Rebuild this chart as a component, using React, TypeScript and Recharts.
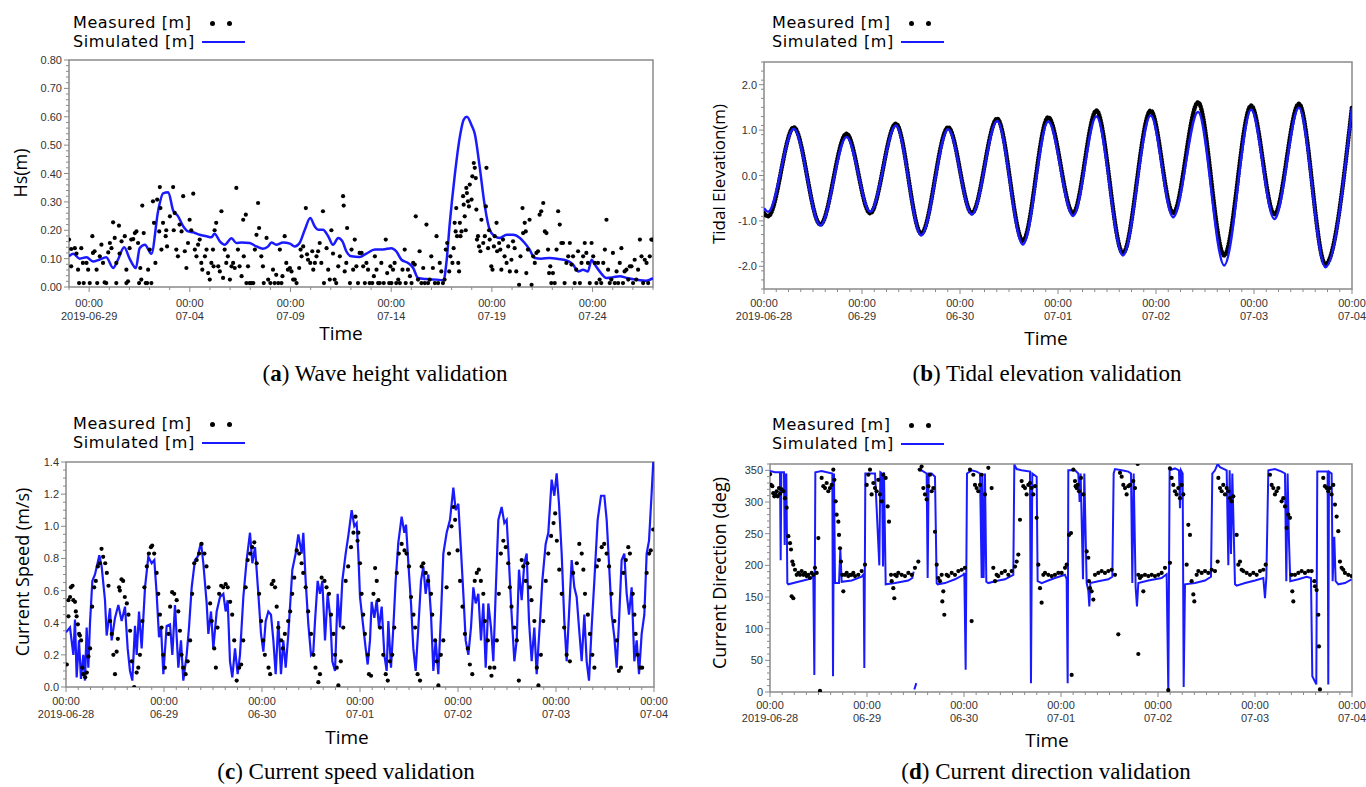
import { ComposedChart, Line, Scatter, XAxis, YAxis, ReferenceArea } from 'recharts'

type Pt = [number, number | null]

const BLUE = '#1a1aff'
const FRAME = '#8a8a8a'
const TICK_TEXT = '#333'
const SANS = "'Open Sans', 'Noto Sans', sans-serif"

// (a) wave height: x = days from 2019-06-29 00:00
const waveXTicks = [0, 5, 10, 15, 20, 25]
const waveDates = ['2019-06-29', '07-04', '07-09', '07-14', '07-19', '07-24']
const waveYTicks = [0, 0.1, 0.2, 0.3, 0.4, 0.5, 0.6, 0.7, 0.8]

const waveSim: Pt[] = [
  [-1.0, 0.108], [-0.79, 0.117], [-0.47, 0.1], [-0.13, 0.105], [0.19, 0.09], [0.5, 0.096], [0.85, 0.105],
  [1.19, 0.067], [1.43, 0.096], [1.74, 0.14], [2.01, 0.1], [2.32, 0.067], [2.51, 0.137], [2.77, 0.149],
  [3.09, 0.117], [3.43, 0.27], [3.67, 0.33], [3.93, 0.334], [4.17, 0.27], [4.41, 0.25], [4.67, 0.214],
  [4.91, 0.196], [5.16, 0.193], [5.49, 0.184], [5.83, 0.179], [6.07, 0.175], [6.23, 0.188], [6.49, 0.161],
  [6.73, 0.149], [7.07, 0.172], [7.31, 0.155], [7.57, 0.157], [7.97, 0.155], [8.31, 0.143], [8.63, 0.135],
  [8.89, 0.143], [9.05, 0.157], [9.29, 0.149], [9.63, 0.157], [9.97, 0.153], [10.21, 0.143], [10.45, 0.155],
  [10.71, 0.202], [10.98, 0.243], [11.2, 0.214], [11.37, 0.202], [11.61, 0.202], [11.87, 0.179], [12.11, 0.149],
  [12.37, 0.173], [12.58, 0.161], [12.77, 0.126], [13.03, 0.108], [13.43, 0.106], [13.77, 0.118], [14.19, 0.132],
  [14.59, 0.132], [15.01, 0.137], [15.25, 0.126], [15.51, 0.096], [15.83, 0.085], [16.09, 0.067], [16.33, 0.032],
  [16.75, 0.028], [17.25, 0.026], [17.6, 0.024], [17.74, 0.085], [17.91, 0.226], [18.15, 0.39], [18.41, 0.53],
  [18.6, 0.59], [18.76, 0.6], [18.99, 0.57], [19.15, 0.54], [19.39, 0.425], [19.65, 0.284], [19.89, 0.202],
  [20.14, 0.179], [20.39, 0.173], [20.73, 0.184], [21.05, 0.184], [21.39, 0.173], [21.63, 0.155], [21.87, 0.132],
  [22.13, 0.102], [22.45, 0.1], [22.87, 0.102], [23.29, 0.099], [23.7, 0.094], [24.03, 0.079], [24.28, 0.055],
  [24.53, 0.061], [24.77, 0.055], [24.95, 0.096], [25.11, 0.079], [25.35, 0.055], [25.69, 0.032], [26.01, 0.034],
  [26.35, 0.038], [26.69, 0.032], [27.17, 0.026], [27.67, 0.022], [28.0, 0.031],
]

const waveMeas: Pt[] = [
  [-1, 0.167], [-0.89, 0.134], [-0.89, 0.073], [-0.71, 0.137], [-0.63, 0.118], [-0.55, 0.061], [-0.5, 0.014],
  [-0.39, 0.137], [-0.31, 0.085], [-0.27, 0.014], [-0.13, 0.085], [-0.05, 0.061], [0.03, 0.014], [0.16, 0.179],
  [0.19, 0.12], [0.27, 0.126], [0.37, 0.061], [0.4, 0.014], [0.53, 0.108], [0.61, 0.149], [0.69, 0.085],
  [0.77, 0.016], [0.85, 0.014], [0.95, 0.122], [1.03, 0.155], [1.11, 0.137], [1.19, 0.228], [1.27, 0.173],
  [1.35, 0.085], [1.35, 0.014], [1.48, 0.216], [1.51, 0.118], [1.61, 0.161], [1.77, 0.179], [1.85, 0.061],
  [1.85, 0.014], [1.93, 0.02], [2.01, 0.137], [2.09, 0.167], [2.19, 0.169], [2.27, 0.19], [2.35, 0.196],
  [2.43, 0.155], [2.48, 0.014], [2.54, 0.067], [2.59, 0.026], [2.64, 0.287], [2.71, 0.19], [2.81, 0.014],
  [2.88, 0.014], [2.93, 0.061], [3.01, 0.132], [3.09, 0.014], [3.17, 0.302], [3.22, 0.226], [3.29, 0.085],
  [3.38, 0.308], [3.48, 0.196], [3.51, 0.352], [3.54, 0.278], [3.59, 0.132], [3.67, 0.226], [3.8, 0.179],
  [3.83, 0.2], [3.87, 0.143], [4.01, 0.249], [4.17, 0.352], [4.2, 0.2], [4.25, 0.261], [4.33, 0.132],
  [4.41, 0.108], [4.49, 0.22], [4.59, 0.196], [4.67, 0.32], [4.75, 0.126], [4.83, 0.067], [4.91, 0.155],
  [4.99, 0.237], [5.07, 0.2], [5.17, 0.329], [5.25, 0.132], [5.33, 0.108], [5.41, 0.149], [5.49, 0.167],
  [5.57, 0.085], [5.62, 0.061], [5.75, 0.108], [5.83, 0.132], [5.91, 0.049], [5.99, 0.026], [6.07, 0.085],
  [6.15, 0.132], [6.18, 0.073], [6.23, 0.2], [6.31, 0.226], [6.41, 0.073], [6.49, 0.055], [6.57, 0.267],
  [6.65, 0.032], [6.73, 0.132], [6.81, 0.085], [6.89, 0.108], [6.99, 0.026], [7.07, 0.073], [7.15, 0.085],
  [7.23, 0.067], [7.31, 0.349], [7.39, 0.132], [7.47, 0.073], [7.57, 0.038], [7.65, 0.237], [7.68, 0.108],
  [7.78, 0.255], [7.81, 0.014], [7.89, 0.073], [7.97, 0.014], [8.05, 0.014], [8.15, 0.014], [8.23, 0.132],
  [8.31, 0.184], [8.39, 0.296], [8.44, 0.208], [8.55, 0.108], [8.63, 0.073], [8.67, 0.014], [8.81, 0.173],
  [8.89, 0.026], [9.0, 0.014], [9.13, 0.061], [9.21, 0.014], [9.29, 0.043], [9.39, 0.014], [9.47, 0.132],
  [9.55, 0.014], [9.6, 0.038], [9.71, 0.179], [9.79, 0.085], [9.87, 0.061], [9.97, 0.067], [10.05, 0.055],
  [10.13, 0.026], [10.21, 0.026], [10.3, 0.014], [10.43, 0.067], [10.5, 0.132], [10.55, 0.108], [10.63, 0.143],
  [10.76, 0.278], [10.82, 0.115], [10.87, 0.096], [10.98, 0.085], [11.08, 0.126], [11.13, 0.061], [11.21, 0.085],
  [11.29, 0.108], [11.37, 0.126], [11.45, 0.155], [11.53, 0.085], [11.61, 0.267], [11.66, 0.014], [11.79, 0.137],
  [11.87, 0.061], [11.95, 0.026], [12.03, 0.2], [12.11, 0.118], [12.19, 0.026], [12.27, 0.014], [12.37, 0.073],
  [12.45, 0.108], [12.61, 0.32], [12.64, 0.287], [12.69, 0.055], [12.77, 0.085], [12.81, 0.208], [12.95, 0.014],
  [13.03, 0.132], [13.11, 0.061], [13.19, 0.167], [13.27, 0.073], [13.35, 0.014], [13.43, 0.12],
  [13.53, 0.12], [13.61, 0.073], [13.69, 0.014], [13.77, 0.085], [13.85, 0.061], [13.93, 0.014], [14.06, 0.014],
  [14.14, 0.038], [14.19, 0.108], [14.27, 0.061], [14.35, 0.014], [14.43, 0.014], [14.51, 0.085], [14.63, 0.014],
  [14.73, 0.167], [14.8, 0.049], [14.9, 0.014], [14.96, 0.073], [15.01, 0.014], [15.09, 0.061], [15.17, 0.085],
  [15.25, 0.014], [15.35, 0.026], [15.43, 0.014], [15.56, 0.061], [15.67, 0.132], [15.72, 0.014], [15.83, 0.061],
  [15.93, 0.038], [16.01, 0.014], [16.09, 0.085], [16.17, 0.079], [16.22, 0.249], [16.33, 0.026], [16.41, 0.126],
  [16.5, 0.014], [16.59, 0.067], [16.67, 0.014], [16.75, 0.22], [16.83, 0.014], [16.91, 0.026], [16.99, 0.108],
  [17.07, 0.067], [17.17, 0.014], [17.25, 0.179], [17.33, 0.014], [17.41, 0.085], [17.49, 0.055], [17.57, 0.014],
  [17.65, 0.026], [17.71, 0.132], [17.78, 0.155], [17.88, 0.055], [17.94, 0.108], [18.04, 0.085], [18.1, 0.137],
  [18.15, 0.226], [18.2, 0.196], [18.23, 0.278], [18.27, 0.179], [18.33, 0.085], [18.37, 0.055], [18.41, 0.226],
  [18.44, 0.179], [18.49, 0.196], [18.57, 0.32], [18.6, 0.29], [18.65, 0.249], [18.7, 0.2], [18.73, 0.349],
  [18.76, 0.331], [18.81, 0.302], [18.86, 0.284], [18.9, 0.361], [18.99, 0.308], [19.03, 0.39], [19.1, 0.437],
  [19.15, 0.42], [19.2, 0.384], [19.23, 0.273], [19.26, 0.167], [19.31, 0.179], [19.36, 0.143], [19.43, 0.126],
  [19.48, 0.237], [19.57, 0.155], [19.65, 0.179], [19.7, 0.284], [19.73, 0.42], [19.81, 0.137], [19.86, 0.2],
  [19.89, 0.167], [19.97, 0.073], [20.03, 0.061], [20.1, 0.143], [20.14, 0.179], [20.23, 0.226], [20.26, 0.126],
  [20.36, 0.155], [20.42, 0.132], [20.47, 0.061], [20.55, 0.167], [20.63, 0.108], [20.73, 0.085], [20.81, 0.143],
  [20.89, 0.055], [20.97, 0.096], [21.05, 0.161], [21.13, 0.137], [21.21, 0.055], [21.35, 0.008], [21.42, 0.108],
  [21.52, 0.278], [21.55, 0.19], [21.63, 0.226], [21.68, 0.196], [21.71, 0.049], [21.79, 0.132], [21.87, 0.237],
  [21.97, 0.008], [22.05, 0.108], [22.13, 0.085], [22.21, 0.12], [22.29, 0.126], [22.37, 0.255], [22.45, 0.267],
  [22.55, 0.296], [22.63, 0.196], [22.71, 0.19], [22.79, 0.132], [22.84, 0.049], [22.9, 0.073], [22.95, 0.014],
  [23.03, 0.049], [23.12, 0.014], [23.21, 0.132], [23.29, 0.267], [23.37, 0.22], [23.45, 0.155], [23.53, 0.155],
  [23.61, 0.014], [23.7, 0.085], [23.79, 0.108], [23.87, 0.155], [23.95, 0.079], [24.03, 0.108], [24.11, 0.014],
  [24.19, 0.061], [24.28, 0.126], [24.37, 0.014], [24.45, 0.085], [24.53, 0.108], [24.61, 0.155], [24.69, 0.12],
  [24.77, 0.085], [24.86, 0.014], [24.95, 0.155], [25.03, 0.108], [25.11, 0.085], [25.19, 0.014], [25.27, 0.085],
  [25.35, 0.026], [25.43, 0.014], [25.53, 0.085], [25.61, 0.132], [25.69, 0.237], [25.77, 0.061], [25.85, 0.014],
  [25.93, 0.026], [26.01, 0.12], [26.1, 0.014], [26.19, 0.055], [26.27, 0.014], [26.35, 0.085], [26.43, 0.137],
  [26.51, 0.014], [26.59, 0.055], [26.68, 0.061], [26.77, 0.026], [26.85, 0.073], [26.93, 0.073], [27.01, 0.014],
  [27.09, 0.096], [27.17, 0.026], [27.26, 0.061], [27.35, 0.167], [27.43, 0.108], [27.51, 0.014], [27.59, 0.096],
  [27.68, 0.085], [27.76, 0.014], [27.84, 0.108], [27.92, 0.167], [28.0, 0.167],
]

// (b)-(d): x = hours from 2019-06-28 00:00
const hourTicks = [0, 24, 48, 72, 96, 120, 144]
const hourDates = ['2019-06-28', '06-29', '06-30', '07-01', '07-02', '07-03', '07-04']

const tideYTicks = [-2, -1, 0, 1, 2]
const tideMeas: Pt[] = [
  [0, -0.83], [1.0, -0.9], [7.3, 1.06], [13.8, -1.08], [20.2, 0.92], [26.0, -0.83], [32.3, 1.14], [38.5, -1.28],
  [45.1, 1.06], [50.9, -0.83], [57.1, 1.25], [63.4, -1.44], [69.6, 1.28], [75.7, -0.83], [81.4, 1.43],
  [87.9, -1.71], [94.7, 1.43], [100.2, -0.83], [106.3, 1.61], [112.7, -1.76], [119.3, 1.54], [125.0, -0.86],
  [131.0, 1.58], [137.5, -1.96], [144, 1.52],
]
const tideSim: Pt[] = [
  [0, -0.72], [1.0, -0.8], [7.3, 1.03], [13.8, -1.1], [20.2, 0.85], [26.0, -0.8], [32.3, 1.1], [38.5, -1.32],
  [45.1, 1.02], [50.9, -0.86], [57.1, 1.2], [63.4, -1.52], [69.6, 1.19], [75.7, -0.89], [81.4, 1.3],
  [87.9, -1.76], [94.7, 1.32], [100.2, -0.92], [106.3, 1.4], [112.7, -1.98], [119.3, 1.45], [125.0, -0.96],
  [131.0, 1.49], [137.5, -2.02], [144, 1.5],
]

const speedYTicks = [0, 0.2, 0.4, 0.6, 0.8, 1.0, 1.2, 1.4]
const speedSim: Pt[] = [
  [0, 0.34], [0.98, 0.37], [1.8, 0.2], [2.2, 0.42], [2.61, 0.06], [3.18, 0.29], [3.67, 0.05], [4.24, 0.2],
  [4.65, 0.04], [5.06, 0.37], [5.47, 0.12], [5.88, 0.4], [6.45, 0.66], [7.1, 0.7], [8.16, 0.82], [8.73, 0.75],
  [9.55, 0.54], [9.96, 0.32], [10.78, 0.49], [11.18, 0.29], [12.0, 0.43], [12.82, 0.51], [13.63, 0.41],
  [14.45, 0.5], [15.1, 0.24], [15.67, 0.1], [16.24, 0.04], [16.9, 0.38], [17.31, 0.2], [17.88, 0.47],
  [18.53, 0.24], [19.35, 0.62], [20.16, 0.81], [20.98, 0.77], [21.63, 0.79], [22.2, 0.58], [22.78, 0.31],
  [23.27, 0.37], [23.84, 0.08], [24.65, 0.38], [25.47, 0.39], [26.04, 0.2], [26.69, 0.51], [27.51, 0.12],
  [28.16, 0.29], [28.73, 0.04], [29.55, 0.2], [30.12, 0.37], [30.78, 0.62], [31.59, 0.79], [32.24, 0.81],
  [33.06, 0.9], [33.63, 0.77], [34.45, 0.52], [34.86, 0.33], [35.51, 0.47], [36.08, 0.24], [36.9, 0.47],
  [37.71, 0.56], [38.53, 0.58], [39.1, 0.47], [39.59, 0.54], [40.16, 0.16], [40.73, 0.06], [41.39, 0.24],
  [42.04, 0.08], [42.61, 0.2], [43.43, 0.56], [44.24, 0.79], [45.06, 0.96], [45.63, 0.77], [46.29, 0.87],
  [47.1, 0.58], [47.76, 0.33], [48.33, 0.22], [48.9, 0.41], [49.55, 0.47], [50.2, 0.45], [50.78, 0.29],
  [51.35, 0.08], [52.0, 0.41], [52.65, 0.08], [53.22, 0.29], [53.8, 0.12], [54.45, 0.33], [55.43, 0.73],
  [56.24, 0.83], [56.9, 0.95], [57.71, 0.83], [58.12, 0.96], [58.69, 0.66], [59.35, 0.39], [60.0, 0.2],
  [60.57, 0.22], [60.98, 0.41], [61.63, 0.66], [62.2, 0.58], [62.78, 0.66], [63.43, 0.29], [64.08, 0.58],
  [64.73, 0.43], [65.22, 0.16], [65.88, 0.1], [66.53, 0.58], [67.1, 0.37], [67.67, 0.66], [68.49, 0.83],
  [69.14, 0.94], [69.96, 1.1], [70.61, 1.0], [71.18, 1.02], [71.59, 0.83], [72.0, 0.56], [72.82, 0.37],
  [73.39, 0.24], [73.88, 0.14], [74.45, 0.29], [74.86, 0.53], [75.51, 0.43], [76.08, 0.54], [76.65, 0.37],
  [77.31, 0.5], [77.96, 0.2], [78.53, 0.1], [78.94, 0.41], [79.59, 0.12], [80.16, 0.37], [80.73, 0.66],
  [81.39, 0.9], [82.2, 1.06], [82.86, 0.96], [83.27, 1.01], [83.84, 0.77], [84.49, 0.52], [85.06, 0.24],
  [85.63, 0.1], [86.29, 0.37], [86.94, 0.66], [87.51, 0.75], [88.08, 0.58], [88.73, 0.7], [89.39, 0.45],
  [89.96, 0.1], [90.53, 0.29], [91.18, 0.08], [91.84, 0.45], [92.41, 0.83], [93.22, 0.96], [94.04, 1.04],
  [94.86, 1.24], [95.43, 1.1], [96.08, 1.14], [96.73, 0.85], [97.31, 0.58], [97.88, 0.29], [98.53, 0.2],
  [99.18, 0.37], [99.76, 0.62], [100.33, 0.52], [100.98, 0.58], [101.63, 0.29], [102.2, 0.52], [102.78, 0.12],
  [103.43, 0.52], [104.08, 0.37], [104.65, 0.16], [105.22, 0.58], [105.88, 1.04], [106.69, 1.12], [107.35, 1.02],
  [107.92, 1.04], [108.49, 0.77], [109.14, 0.45], [109.8, 0.16], [110.37, 0.29], [110.94, 0.73], [111.59, 0.54],
  [112.24, 0.77], [112.82, 0.83], [113.39, 0.41], [114.04, 0.16], [114.69, 0.37], [115.27, 0.08], [116.08, 0.41],
  [116.65, 0.66], [117.47, 0.89], [118.12, 0.96], [118.94, 1.29], [119.59, 1.19], [120.16, 1.33], [120.73, 1.14],
  [121.39, 0.83], [122.04, 0.41], [122.61, 0.16], [123.18, 0.45], [123.84, 0.79], [124.49, 0.62], [125.06, 0.56],
  [125.63, 0.37], [126.29, 0.16], [126.94, 0.45], [127.51, 0.16], [128.08, 0.04], [128.73, 0.37], [129.39, 0.66],
  [130.2, 1.04], [131.02, 1.19], [131.84, 1.19], [132.41, 1.04], [132.98, 0.77], [133.63, 0.45], [134.29, 0.31],
  [134.86, 0.12], [135.43, 0.41], [136.08, 0.79], [136.73, 0.83], [137.31, 0.58], [137.88, 0.45], [138.53, 0.62],
  [139.18, 0.16], [139.76, 0.29], [140.33, 0.08], [140.98, 0.33], [141.63, 0.45], [142.2, 0.83], [142.78, 0.91],
  [143.43, 1.21], [143.84, 1.41],
]
const speedMeas: Pt[] = [
  [0.2, 0.14], [0.6, 0.54], [0.6, 0.44], [1.0, 0.56], [1.2, 0.62], [1.6, 0.63], [1.8, 0.54], [2.2, 0.53],
  [2.4, 0.47], [2.6, 0.44], [2.9, 0.39], [3.2, 0.33], [3.4, 0.32], [3.7, 0.29], [4.0, 0.12], [4.2, 0.08],
  [4.7, 0.06], [5.1, 0.09], [5.5, 0.19], [5.9, 0.24], [6.4, 0.5], [6.9, 0.62], [7.3, 0.66], [7.8, 0.75],
  [8.3, 0.77], [8.7, 0.86], [9.1, 0.81], [9.6, 0.77], [10.0, 0.71], [10.4, 0.63], [10.8, 0.41], [11.2, 0.33],
  [11.6, 0.2], [12.0, 0.08], [12.4, 0.22], [12.7, 0.3], [13.0, 0.62], [13.2, 0.6], [13.6, 0.67], [14.0, 0.66],
  [14.4, 0.56], [14.9, 0.52], [15.3, 0.45], [15.7, 0.35], [16.1, 0.16], [16.7, 0.0], [17.3, 0.09], [17.7, 0.12],
  [18.1, 0.2], [18.7, 0.41], [19.2, 0.62], [19.8, 0.75], [20.3, 0.83], [20.8, 0.87], [21.1, 0.88], [21.6, 0.83],
  [22.2, 0.71], [22.6, 0.58], [23.0, 0.45], [23.4, 0.37], [23.8, 0.2], [24.2, 0.12], [25.1, 0.33], [25.5, 0.5],
  [26.0, 0.59], [26.5, 0.58], [27.1, 0.54], [27.5, 0.47], [27.9, 0.35], [28.3, 0.2], [28.7, 0.12], [29.3, 0.08],
  [29.8, 0.16], [30.4, 0.29], [30.9, 0.58], [31.4, 0.77], [32.0, 0.79], [32.6, 0.83], [33.2, 0.89], [33.9, 0.83],
  [34.4, 0.75], [34.9, 0.62], [35.3, 0.52], [35.7, 0.41], [36.3, 0.24], [36.7, 0.12], [37.1, 0.37], [37.5, 0.58],
  [38.0, 0.63], [38.5, 0.62], [39.1, 0.64], [39.6, 0.62], [40.2, 0.53], [40.7, 0.45], [41.2, 0.29], [41.8, 0.04],
  [42.4, 0.12], [42.9, 0.14], [43.4, 0.29], [44.0, 0.62], [44.5, 0.79], [45.1, 0.83], [45.6, 0.87], [46.1, 0.9],
  [46.7, 0.77], [47.3, 0.58], [47.8, 0.41], [48.3, 0.29], [48.7, 0.2], [49.6, 0.12], [50.0, 0.08], [50.4, 0.64],
  [50.8, 0.66], [51.2, 0.62], [51.6, 0.5], [52.0, 0.37], [52.7, 0.29], [53.1, 0.24], [53.6, 0.33], [54.4, 0.41],
  [54.9, 0.47], [55.4, 0.58], [55.9, 0.68], [56.5, 0.85], [57.1, 0.83], [57.7, 0.77], [58.1, 0.71], [58.7, 0.62],
  [59.3, 0.47], [60.0, 0.33], [60.6, 0.2], [61.1, 0.12], [61.8, 0.03], [62.2, 0.08], [62.6, 0.68], [63.3, 0.66],
  [63.8, 0.62], [64.4, 0.58], [64.9, 0.45], [65.5, 0.33], [65.9, 0.2], [66.3, 0.12], [66.7, 0.01], [67.3, 0.16],
  [67.9, 0.37], [68.5, 0.66], [69.1, 0.75], [69.8, 0.87], [70.4, 0.96], [70.9, 1.06], [71.4, 0.91], [71.6, 0.96],
  [72.0, 0.77], [72.4, 0.58], [72.8, 0.45], [73.2, 0.33], [73.9, 0.2], [74.2, 0.08], [74.7, 0.07], [75.3, 0.58],
  [75.7, 0.74], [76.1, 0.66], [76.5, 0.54], [76.9, 0.37], [77.7, 0.2], [78.3, 0.08], [78.8, 0.04], [79.3, 0.16],
  [79.9, 0.2], [80.4, 0.37], [81.0, 0.71], [81.5, 0.83], [82.2, 0.89], [82.9, 0.85], [83.4, 0.83], [84.0, 0.75],
  [84.5, 0.56], [85.1, 0.45], [85.5, 0.37], [86.1, 0.08], [86.7, 0.04], [87.1, 0.75], [87.5, 0.77], [88.1, 0.71],
  [88.7, 0.66], [89.4, 0.58], [89.7, 0.45], [90.4, 0.29], [90.8, 0.16], [91.2, 0.01], [91.8, 0.2], [92.4, 0.29],
  [93.2, 0.62], [93.8, 0.83], [94.4, 1.0], [94.9, 1.12], [95.3, 1.04], [95.9, 0.85], [96.5, 0.66], [97.1, 0.5],
  [97.7, 0.33], [98.4, 0.24], [98.9, 0.14], [99.5, 0.08], [100.1, 0.66], [100.6, 0.71], [101.1, 0.73],
  [101.6, 0.66], [102.2, 0.58], [102.6, 0.41], [103.3, 0.29], [103.8, 0.12], [104.2, 0.07], [104.9, 0.12],
  [105.5, 0.29], [106.0, 0.58], [106.5, 0.83], [107.1, 0.91], [107.7, 0.87], [108.3, 0.77], [108.7, 0.62],
  [109.1, 0.5], [109.8, 0.37], [110.4, 0.29], [110.9, 0.04], [111.6, 0.79], [112.0, 0.75], [112.6, 0.66],
  [113.0, 0.77], [113.6, 0.62], [114.0, 0.54], [114.7, 0.41], [115.3, 0.12], [115.7, 0.01], [116.3, 0.2],
  [116.9, 0.41], [117.5, 0.66], [118.1, 0.83], [118.8, 0.94], [119.4, 1.02], [119.8, 1.08], [120.2, 0.91],
  [120.8, 0.73], [121.4, 0.58], [122.0, 0.37], [122.6, 0.2], [123.4, 0.16], [124.2, 0.71], [125.1, 0.77],
  [125.7, 0.89], [126.3, 0.83], [126.7, 0.73], [127.1, 0.58], [127.8, 0.45], [128.3, 0.33], [128.9, 0.2],
  [129.4, 0.12], [130.0, 0.75], [130.5, 0.79], [131.2, 0.87], [131.8, 0.89], [132.4, 0.83], [133.0, 0.75],
  [133.6, 0.58], [134.3, 0.41], [134.9, 0.29], [135.4, 0.1], [135.9, 0.12], [136.5, 0.71], [137.1, 0.79],
  [137.7, 0.87], [138.1, 0.83], [138.8, 0.58], [139.2, 0.45], [139.5, 0.33], [140.0, 0.2], [140.6, 0.12],
  [141.1, 0.12], [141.6, 0.5], [142.2, 0.71], [142.8, 0.83], [143.2, 0.85], [143.8, 0.98],
]

const dirYTicks = [0, 50, 100, 150, 200, 250, 300, 350]
const dirSim: Pt[] = [
  [0, 349], [1.24, 347], [2.47, 347], [2.64, 208], [2.8, 347], [3.46, 347], [3.63, 232], [3.79, 340], [4.04, 345],
  [4.29, 172], [4.54, 170], [7.01, 174], [9.48, 178], [10.72, 182], [10.97, 27], [11.22, 347], [12.78, 349],
  [15.42, 345], [15.59, 25], [15.83, 345], [16.08, 172], [17.07, 172], [17.4, 225], [17.73, 174], [20.21, 176],
  [22.68, 182], [23.17, 186], [23.34, 38], [23.59, 345], [25.98, 345], [27.05, 200], [27.3, 347], [27.71, 345],
  [27.96, 198], [28.2, 347], [28.62, 170], [30.93, 172], [34.23, 176], [35.21, 180], [35.54, 190], [35.62, null],
  [35.71, 4], [36.2, 14], [36.3, null], [36.53, 352], [37.52, 350], [38.76, 345], [39.01, 180], [39.26, 345],
  [40.0, 345], [40.82, 340], [41.24, 172], [41.48, 170], [43.3, 172], [45.77, 178], [47.83, 185], [48.08, 188],
  [48.41, 35], [48.74, 345], [49.89, 350], [51.13, 348], [51.96, 345], [52.37, 180], [52.53, 345], [52.86, 180],
  [53.19, 345], [53.52, 174], [54.02, 172], [55.67, 175], [58.14, 178], [60.2, 185], [60.45, 359], [61.03, 352],
  [62.26, 350], [64.33, 348], [64.57, 14], [64.9, 345], [65.98, 340], [66.22, 175], [67.21, 172], [68.86, 176],
  [70.51, 180], [72.99, 185], [73.4, 178], [73.65, 14], [73.81, 350], [75.46, 350], [76.28, 345], [76.61, 300],
  [76.86, 345], [77.44, 178], [77.77, 345], [78.35, 172], [78.76, 160], [79.01, 135], [79.25, 172], [81.23, 175],
  [83.71, 178], [84.7, 182], [85.03, 345], [85.36, 352], [87.01, 350], [88.66, 348], [89.32, 345], [89.65, 172],
  [89.98, 345], [90.47, 165], [90.8, 135], [91.13, 172], [93.61, 176], [96.9, 180], [98.14, 186], [98.55, 0],
  [98.88, 350], [100.2, 353], [101.19, 350], [101.44, 290], [101.69, 350], [102.1, 345], [102.35, 8], [102.68, 170],
  [105.15, 172], [107.63, 176], [109.11, 182], [109.44, 345], [110.1, 350], [110.76, 360], [111.34, 355],
  [112.99, 350], [113.4, 200], [113.73, 350], [114.06, 218], [114.39, 345], [115.05, 170], [115.46, 168],
  [117.53, 172], [120.0, 176], [122.06, 180], [122.47, 148], [122.8, 180], [123.3, 350], [124.94, 352],
  [126.59, 348], [127.42, 345], [127.75, 175], [128.07, 345], [128.4, 240], [128.73, 175], [130.72, 178],
  [132.78, 182], [133.85, 180], [134.18, 25], [135.17, 12], [135.41, 348], [137.97, 348], [138.13, 12],
  [138.3, 348], [138.96, 345], [139.21, 175], [139.62, 245], [139.95, 175], [140.61, 170], [142.26, 172],
  [143.9, 178],
]
const dirMeas: Pt[] = [
  [0, 344], [0.25, 327], [0.58, 325], [0.82, 314], [1.07, 309], [1.4, 312], [1.65, 317], [1.9, 309], [2.23, 322],
  [2.47, 313], [2.89, 320], [3.3, 317], [3.71, 306], [4.12, 291], [4.54, 246], [4.95, 235], [5.2, 225], [5.53, 206],
  [5.77, 201], [5.36, 151], [5.77, 148], [6.19, 193], [6.6, 185], [7.01, 188], [7.42, 185], [7.83, 191], [8.25, 185],
  [8.66, 188], [9.07, 183], [9.48, 185], [9.9, 180], [10.31, 188], [10.72, 185], [11.13, 196], [11.55, 188],
  [11.96, 243], [12.37, 2], [12.78, 338], [13.2, 325], [13.61, 322], [14.02, 330], [14.43, 317], [14.84, 322],
  [15.26, 327], [15.67, 351], [15.92, 335], [16.25, 301], [16.49, 280], [16.91, 269], [17.07, 248], [17.32, 227],
  [17.57, 206], [17.9, 185], [18.14, 159], [18.56, 185], [18.97, 188], [19.38, 183], [19.79, 185], [20.21, 185],
  [20.62, 188], [21.03, 183], [21.85, 185], [22.68, 191], [23.5, 201], [23.92, 327], [24.33, 343], [24.74, 351],
  [25.15, 312], [25.57, 330], [25.98, 322], [26.39, 317], [26.8, 335], [27.22, 312], [27.63, 301], [28.04, 343],
  [28.62, 338], [29.11, 293], [29.44, 269], [29.94, 185], [30.1, 175], [30.51, 164], [30.76, 148], [30.93, 185],
  [31.34, 183], [31.75, 188], [32.58, 185], [33.4, 183], [34.23, 188], [35.05, 185], [35.87, 196], [36.7, 206],
  [37.11, 351], [37.52, 356], [37.94, 322], [38.35, 312], [38.76, 304], [39.17, 325], [39.59, 343], [40.0, 317],
  [40.41, 322], [40.82, 253], [41.24, 201], [41.65, 180], [42.06, 175], [42.47, 185], [42.64, 143], [42.88, 159],
  [43.13, 122], [43.71, 185], [44.12, 183], [44.95, 188], [45.77, 185], [46.6, 191], [47.42, 193], [48.24, 196],
  [49.48, 351], [49.89, 112], [50.31, 343], [50.72, 327], [51.13, 322], [51.54, 317], [51.96, 327], [52.37, 343],
  [53.19, 312], [54.02, 354], [54.84, 322], [55.25, 196], [55.67, 175], [56.08, 185], [56.49, 183], [57.32, 188],
  [58.14, 191], [58.97, 185], [59.79, 191], [60.62, 198], [61.03, 206], [61.44, 217], [61.85, 272], [62.26, 333],
  [62.68, 325], [63.09, 322], [63.5, 312], [63.91, 327], [64.33, 330], [64.74, 322], [65.15, 312], [65.56, 325],
  [65.98, 275], [66.39, 201], [66.8, 164], [67.21, 141], [67.63, 185], [68.04, 188], [68.86, 185], [69.69, 183],
  [70.51, 185], [71.34, 188], [72.16, 188], [72.99, 196], [73.4, 201], [73.98, 248], [74.47, 251], [74.64, 27],
  [75.05, 351], [75.46, 333], [75.62, 325], [75.87, 322], [76.12, 327], [76.45, 317], [76.94, 338], [77.52, 312],
  [78.35, 222], [78.76, 212], [78.92, 175], [79.17, 164], [79.58, 159], [80.0, 146], [80.41, 185], [81.23, 188],
  [82.06, 191], [82.88, 188], [83.71, 191], [84.53, 193], [85.36, 185], [86.18, 91], [86.59, 346], [87.01, 340],
  [87.42, 327], [87.83, 322], [88.24, 312], [88.66, 325], [89.07, 327], [89.89, 333], [90.31, 322], [90.97, 360],
  [91.13, 185], [91.13, 60], [91.54, 180], [91.96, 183], [92.37, 159], [92.78, 185], [93.61, 183], [94.43, 185],
  [95.25, 183], [96.08, 185], [96.9, 188], [97.73, 196], [98.55, 3], [98.96, 204], [98.96, 353], [99.38, 338],
  [99.79, 327], [100.2, 317], [100.61, 312], [101.03, 322], [101.44, 306], [101.85, 327], [102.26, 312],
  [103.09, 201], [103.5, 264], [103.91, 248], [104.32, 175], [104.74, 154], [104.99, 143], [105.56, 185],
  [105.98, 191], [106.8, 188], [107.63, 191], [108.45, 188], [109.28, 193], [110.1, 191], [110.76, 206],
  [110.93, 338], [111.34, 322], [111.75, 317], [112.16, 327], [112.57, 312], [112.99, 322], [113.4, 317],
  [113.81, 306], [114.22, 301], [114.64, 309], [115.46, 248], [115.87, 201], [116.29, 206], [116.7, 193],
  [117.11, 191], [117.94, 188], [118.76, 185], [119.59, 188], [120.41, 185], [121.23, 191], [122.06, 193],
  [122.64, 201], [123.71, 343], [124.12, 327], [124.53, 322], [124.94, 312], [125.35, 317], [125.77, 322],
  [126.59, 301], [127.0, 306], [127.42, 293], [127.83, 259], [128.24, 280], [128.65, 275], [129.07, 185],
  [129.23, 159], [129.48, 143], [129.89, 185], [130.72, 188], [131.54, 191], [132.36, 188], [133.19, 191],
  [134.01, 191], [134.67, 175], [134.84, 167], [135.25, 161], [135.66, 122], [135.82, 72], [136.07, 4],
  [136.89, 338], [137.31, 325], [137.72, 322], [138.13, 317], [138.55, 322], [138.96, 312], [139.37, 327],
  [139.78, 296], [140.2, 277], [140.61, 254], [141.02, 206], [141.43, 196], [141.85, 193], [142.26, 188],
  [143.08, 185], [143.9, 183],
]

function withMinor(domain: [number, number], majors: number[], step: number) {
  const out = [...majors]
  const n = Math.round((domain[1] - domain[0]) / step)
  for (let i = 0; i <= n; i++) {
    const v = Math.round((domain[0] + i * step) * 1000) / 1000
    if (!majors.some((m) => Math.abs(m - v) < 1e-6)) out.push(v)
  }
  return out.sort((a, b) => a - b)
}

function XTick(props: any) {
  const { x, y, payload, majors, dates, gap } = props
  const i = majors.findIndex((m: number) => Math.abs(m - payload.value) < 1e-6)
  return (
    <g>
      <line x1={x} x2={x} y1={y} y2={y + (i >= 0 ? 5 : 3)} stroke={FRAME} />
      {i >= 0 && (
        <text x={x} y={y + gap} textAnchor="middle" fontSize={11} fill={TICK_TEXT} fontFamily="'Liberation Sans', Arial, sans-serif">
          <tspan x={x}>00:00</tspan>
          <tspan x={x} dy={13}>{dates[i]}</tspan>
        </text>
      )}
    </g>
  )
}

function YTick(props: any) {
  const { x, y, payload, majors, fmt } = props
  const major = majors.some((m: number) => Math.abs(m - payload.value) < 1e-6)
  return (
    <g>
      <line x1={x} x2={x - (major ? 5 : 3)} y1={y} y2={y} stroke={FRAME} />
      {major && (
        <text x={x - 7} y={y + 4} textAnchor="end" fontSize={11} fill={TICK_TEXT} fontFamily="'Liberation Sans', Arial, sans-serif">
          {fmt(payload.value)}
        </text>
      )}
    </g>
  )
}

const dotShape = (p: any) => <circle cx={p.cx} cy={p.cy} r={2.1} fill="#000" />

interface PanelProps {
  left: number
  top: number
  plotW: number
  plotH: number
  xDomain: [number, number]
  xTicks: number[]
  xMinor: number
  xDates: string[]
  labelGap: number
  yDomain: [number, number]
  yTicks: number[]
  yMinor: number
  yFmt: (v: number) => string
  sim: Pt[]
  meas: Pt[]
  simCurve: 'monotone' | 'linear'
  simWidth: number
  measLine?: boolean
}

function Panel(p: PanelProps) {
  const sim = p.sim.map(([t, v]) => ({ t, v }))
  const meas = p.meas.map(([t, v]) => ({ t, v }))
  return (
    <div style={{ position: 'absolute', left: p.left - 60, top: p.top - 10 }}>
      <ComposedChart width={p.plotW + 80} height={p.plotH + 50} margin={{ top: 10, right: 20, bottom: 10, left: 10 }}>
        <XAxis
          type="number"
          dataKey="t"
          domain={p.xDomain}
          ticks={withMinor(p.xDomain, p.xTicks, p.xMinor)}
          interval={0}
          allowDataOverflow
          tickSize={0}
          tickMargin={0}
          axisLine={false}
          height={30}
          tick={<XTick majors={p.xTicks} dates={p.xDates} gap={p.labelGap} />}
        />
        <YAxis
          type="number"
          dataKey="v"
          domain={p.yDomain}
          ticks={withMinor(p.yDomain, p.yTicks, p.yMinor)}
          interval={0}
          allowDataOverflow
          tickSize={0}
          tickMargin={0}
          axisLine={false}
          width={50}
          tick={<YTick majors={p.yTicks} fmt={p.yFmt} />}
        />
        {p.measLine ? (
          <Line data={meas} dataKey="v" type="monotone" stroke="#000" strokeWidth={4.5}
            strokeDasharray="0.1 2.6" strokeLinecap="round" dot={false} isAnimationActive={false} />
        ) : (
          <Scatter data={meas} dataKey="v" fill="#000" shape={dotShape} isAnimationActive={false} />
        )}
        <Line data={sim} dataKey="v" type={p.simCurve} stroke={BLUE} strokeWidth={p.simWidth}
          dot={false} isAnimationActive={false} />
        <ReferenceArea x1={p.xDomain[0]} x2={p.xDomain[1]} y1={p.yDomain[0]} y2={p.yDomain[1]}
          fill="none" stroke={FRAME} strokeWidth={1.5} />
      </ComposedChart>
    </div>
  )
}

function LegendBox({ x, y }: { x: number; y: number }) {
  const row = {
    position: 'absolute' as const, left: 0, height: 19, lineHeight: '19px', whiteSpace: 'nowrap' as const,
  }
  const dot = { position: 'absolute' as const, width: 5, height: 5, borderRadius: 3, background: '#000', top: 8 }
  return (
    <div style={{
      position: 'absolute', left: x, top: y, fontFamily: "'DejaVu Sans', sans-serif",
      fontSize: 16, letterSpacing: 0.6, color: '#000',
    }}>
      <div style={{ ...row, top: 0 }}>Measured [m]</div>
      <div style={{ ...dot, left: 137 }} />
      <div style={{ ...dot, left: 154 }} />
      <div style={{ ...row, top: 19 }}>Simulated [m]</div>
      <div style={{ position: 'absolute', left: 129, top: 28, width: 43, height: 2, background: BLUE }} />
    </div>
  )
}

function Text({ x, y, size, rotate, children, serif }: any) {
  return (
    <div style={{
      position: 'absolute', left: x, top: y, whiteSpace: 'nowrap', lineHeight: 1.2,
      transform: `translate(-50%, -50%)${rotate ? ' rotate(-90deg)' : ''}`,
      fontFamily: serif ? "'Liberation Serif', 'DejaVu Serif', serif" : SANS,
      fontSize: size, color: '#000',
    }}>
      {children}
    </div>
  )
}

export default function App() {
  return (
    <div style={{ position: 'absolute', left: 0, top: 0, width: 1366, height: 787, background: '#fff', overflow: 'hidden' }}>
      <Panel left={69} top={60} plotW={584} plotH={227} xDomain={[-1, 28]} xTicks={waveXTicks} xMinor={1}
        xDates={waveDates} labelGap={20} yDomain={[0, 0.8]} yTicks={waveYTicks} yMinor={0.02} yFmt={(v) => v.toFixed(2)}
        sim={waveSim} meas={waveMeas} simCurve="monotone" simWidth={2.5} />
      <Panel left={764} top={62} plotW={588} plotH={227} xDomain={[0, 144]} xTicks={hourTicks} xMinor={3}
        xDates={hourDates} labelGap={18} yDomain={[-2.5, 2.5]} yTicks={tideYTicks} yMinor={0.2} yFmt={(v) => v.toFixed(1)}
        sim={tideSim} meas={tideMeas} simCurve="monotone" simWidth={2.5} measLine />
      <Panel left={66} top={462} plotW={588} plotH={225} xDomain={[0, 144]} xTicks={hourTicks} xMinor={3}
        xDates={hourDates} labelGap={18} yDomain={[0, 1.4]} yTicks={speedYTicks} yMinor={0.05} yFmt={(v) => v.toFixed(1)}
        sim={speedSim} meas={speedMeas} simCurve="linear" simWidth={2.2} />
      <Panel left={770} top={464} plotW={582} plotH={228} xDomain={[0, 144]} xTicks={hourTicks} xMinor={3}
        xDates={hourDates} labelGap={17} yDomain={[0, 360]} yTicks={dirYTicks} yMinor={10} yFmt={(v) => String(v)}
        sim={dirSim} meas={dirMeas} simCurve="linear" simWidth={2} />

      <LegendBox x={73} y={13} />
      <LegendBox x={772} y={13} />
      <LegendBox x={73} y={414} />
      <LegendBox x={772} y={415} />

      <Text x={21} y={173} size={18} rotate>Hs(m)</Text>
      <Text x={719} y={174} size={17} rotate>Tidal Elevation(m)</Text>
      <Text x={23} y={572} size={18} rotate>Current Speed (m/s)</Text>
      <Text x={720} y={573} size={18} rotate>Current Direction (deg)</Text>

      <Text x={341} y={333} size={19}>Time</Text>
      <Text x={1046} y={338} size={19}>Time</Text>
      <Text x={347} y={737} size={19}>Time</Text>
      <Text x={1047} y={740} size={19}>Time</Text>

      <Text x={385} y={374} size={23} serif>(<b>a</b>) Wave height validation</Text>
      <Text x={1047} y={374} size={23} serif>(<b>b</b>) Tidal elevation validation</Text>
      <Text x={346} y={772} size={23} serif>(<b>c</b>) Current speed validation</Text>
      <Text x={1046} y={772} size={23} serif>(<b>d</b>) Current direction validation</Text>
    </div>
  )
}
